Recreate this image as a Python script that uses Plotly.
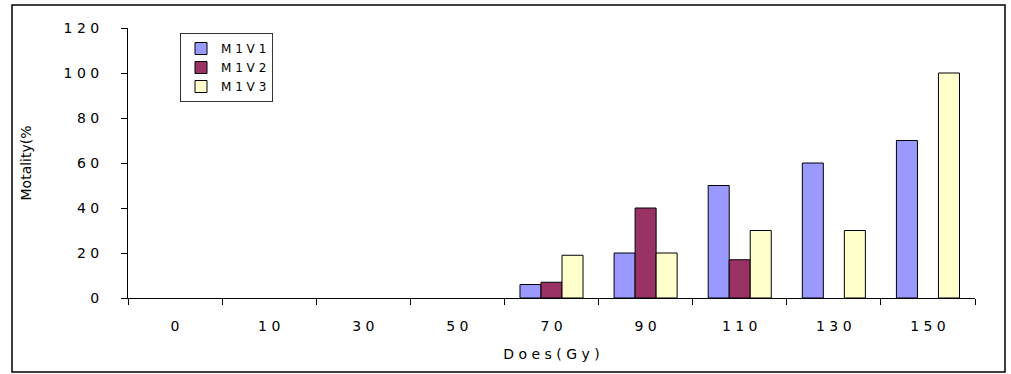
import plotly.graph_objects as go

categories = ["0", "10", "30", "50", "70", "90", "110", "130", "150"]
m1v1 = [0, 0, 0, 0, 6, 20, 50, 60, 70]
m1v2 = [0, 0, 0, 0, 7, 40, 17, 0, 0]
m1v3 = [0, 0, 0, 0, 19, 20, 30, 30, 100]
y_ticks = [0, 20, 40, 60, 80, 100, 120]


def spaced(s):
    return " ".join(list(s))


FONT = "DejaVu Sans"
L, R, T, B = 128, 975, 28, 298
W, H = 1011, 374

fig = go.Figure()
for name, vals, col in [("M1V1", m1v1, "#9999FF"), ("M1V2", m1v2, "#993366"), ("M1V3", m1v3, "#FFFFCC")]:
    fig.add_trace(go.Bar(
        x=categories, y=[v if v else None for v in vals], name=spaced(name),
        marker=dict(color=col, line=dict(color="black", width=1)),
    ))

fig.update_layout(
    width=W, height=H,
    margin=dict(l=L, r=W - R, t=T, b=H - B, pad=0),
    paper_bgcolor="white", plot_bgcolor="white",
    barmode="group", bargap=0.33, bargroupgap=0,
    font=dict(family=FONT, size=14, color="black"),
    showlegend=True,
    legend=dict(
        x=(180 - L) / (R - L), y=(B - 33) / (B - T), xanchor="left", yanchor="top",
        bordercolor="#333333", borderwidth=1, bgcolor="white",
        font=dict(size=12, family=FONT), itemwidth=30, tracegroupgap=0,
    ),
    xaxis=dict(
        type="category", showline=True, linecolor="black", linewidth=1,
        ticks="outside", ticklen=6, tickcolor="black", tickson="boundaries",
        tickvals=categories, ticktext=[spaced(c) for c in categories],
        ticklabelstandoff=15, showgrid=False, zeroline=False,
        title=dict(text=spaced("Does(Gy)"), standoff=16, font=dict(size=14)),
    ),
    yaxis=dict(
        range=[0, 120], showline=True, linecolor="black", linewidth=1,
        ticks="outside", ticklen=6, tickcolor="black",
        tickvals=y_ticks, ticktext=[spaced(str(v)) for v in y_ticks],
        ticklabelstandoff=19, showgrid=False, zeroline=False,
        title=dict(text="Motality(%", standoff=28, font=dict(size=14)),
    ),
    shapes=[dict(
        type="rect", xref="paper", yref="paper",
        x0=(12 - L) / (R - L), x1=(1005 - L) / (R - L),
        y0=(B - 372) / (B - T), y1=(B - 5) / (B - T),
        line=dict(color="black", width=1.5), fillcolor="rgba(0,0,0,0)", layer="below",
    )],
)

fig.write_html("out.html")
